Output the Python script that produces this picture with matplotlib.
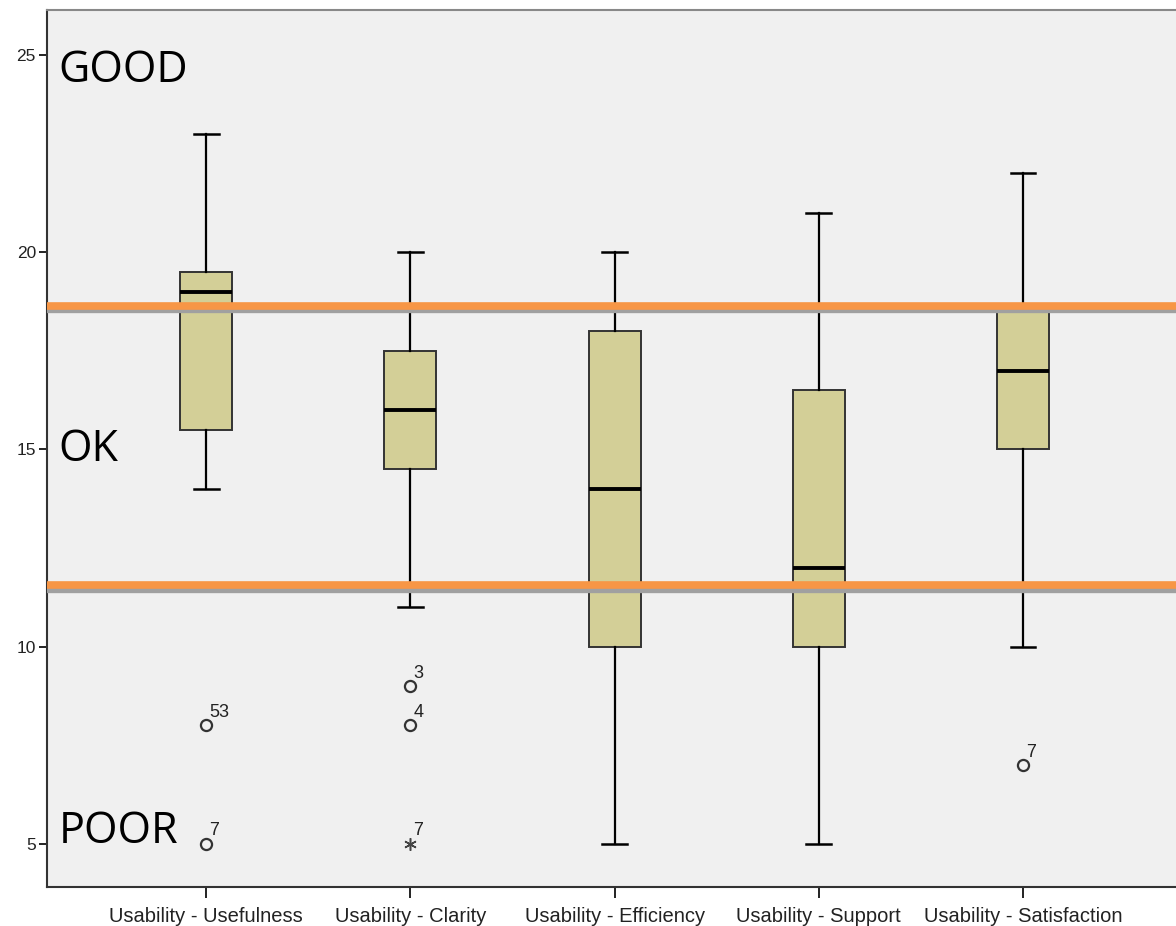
import matplotlib.pyplot as plt
import numpy as np

categories = ["Usability - Usefulness", "Usability - Clarity", "Usability - Efficiency",
              "Usability - Support", "Usability - Satisfaction"]
whislo = [14, 11, 5, 5, 10]
q1 = [15.5, 14.5, 10, 10, 15]
med = [19, 16, 14, 12, 17]
q3 = [19.5, 17.5, 18, 16.5, 18.5]
whishi = [23, 20, 20, 21, 22]

# outliers: (category index, value, case label)
outliers = [(0, 8, "53"), (0, 5, "7"), (1, 9, "3"), (1, 8, "4"), (4, 7, "7")]
extremes = [(1, 5, "7")]

upper_cut = 18.65
lower_cut = 11.55

fig = plt.figure(figsize=(11.76, 9.26), dpi=100)
ax = fig.add_axes([0.040, 0.042, 0.96, 0.947])
ax.set_facecolor("#f0f0f0")

stats = []
for i in range(len(categories)):
    stats.append(dict(whislo=whislo[i], q1=q1[i], med=med[i], q3=q3[i],
                      whishi=whishi[i], fliers=[]))

ax.bxp(stats, positions=range(len(categories)), widths=0.255, patch_artist=True,
       showfliers=False,
       boxprops=dict(facecolor="#d3cf97", edgecolor="#333333", linewidth=1.4),
       medianprops=dict(color="black", linewidth=2.8),
       whiskerprops=dict(color="black", linewidth=1.6),
       capprops=dict(color="black", linewidth=1.8),
       capwidths=0.12)

for i, v, lab in outliers:
    ax.plot(i, v, "o", ms=8, mfc="none", mec="#333333", mew=1.6, zorder=4)
    ax.annotate(lab, (i, v), xytext=(2, 6), textcoords="offset points",
                fontsize=13, family="Liberation Sans", color="#222222")
for i, v, lab in extremes:
    ax.plot(i, v, marker=(6, 2, 0), ms=9, mec="#444444", mew=1.1, zorder=4)
    ax.annotate(lab, (i, v), xytext=(2, 6), textcoords="offset points",
                fontsize=13, family="Liberation Sans", color="#222222")

# cut-off lines
for y in (upper_cut, lower_cut):
    ax.axhline(y - 0.1, color="#a0a0a0", lw=6, zorder=5)
    ax.axhline(y, color="#f79646", lw=5.5, zorder=6)

ytr = ax.get_yaxis_transform()
ax.text(0.01, 24.6, "GOOD", fontsize=31, family="Open Sans", va="center", ha="left",
        transform=ytr)
ax.text(0.01, 15.0, "OK", fontsize=31, family="Open Sans", va="center", ha="left",
        transform=ytr)
ax.text(0.01, 5.3, "POOR", fontsize=31, family="Open Sans", va="center", ha="left",
        transform=ytr)

ax.set_xlim(-0.78, 4.75)
ax.set_ylim(3.9, 26.14)
ax.set_yticks([5, 10, 15, 20, 25])
ax.set_xticks(range(len(categories)))
ax.set_xticklabels(categories)
ax.tick_params(axis="x", labelsize=14.5, colors="#222222", length=8, width=1.4, pad=6)
ax.tick_params(axis="y", labelsize=12.5, colors="#222222", length=6, width=1.4, pad=2)
for lab in ax.get_xticklabels() + ax.get_yticklabels():
    lab.set_family("Liberation Sans")

ax.spines["left"].set_color("#333333")
ax.spines["bottom"].set_color("#333333")
ax.spines["top"].set_color("#888888")
ax.spines["right"].set_visible(False)
for s in ax.spines.values():
    s.set_linewidth(1.5)

fig.savefig("out.png", dpi=100)
